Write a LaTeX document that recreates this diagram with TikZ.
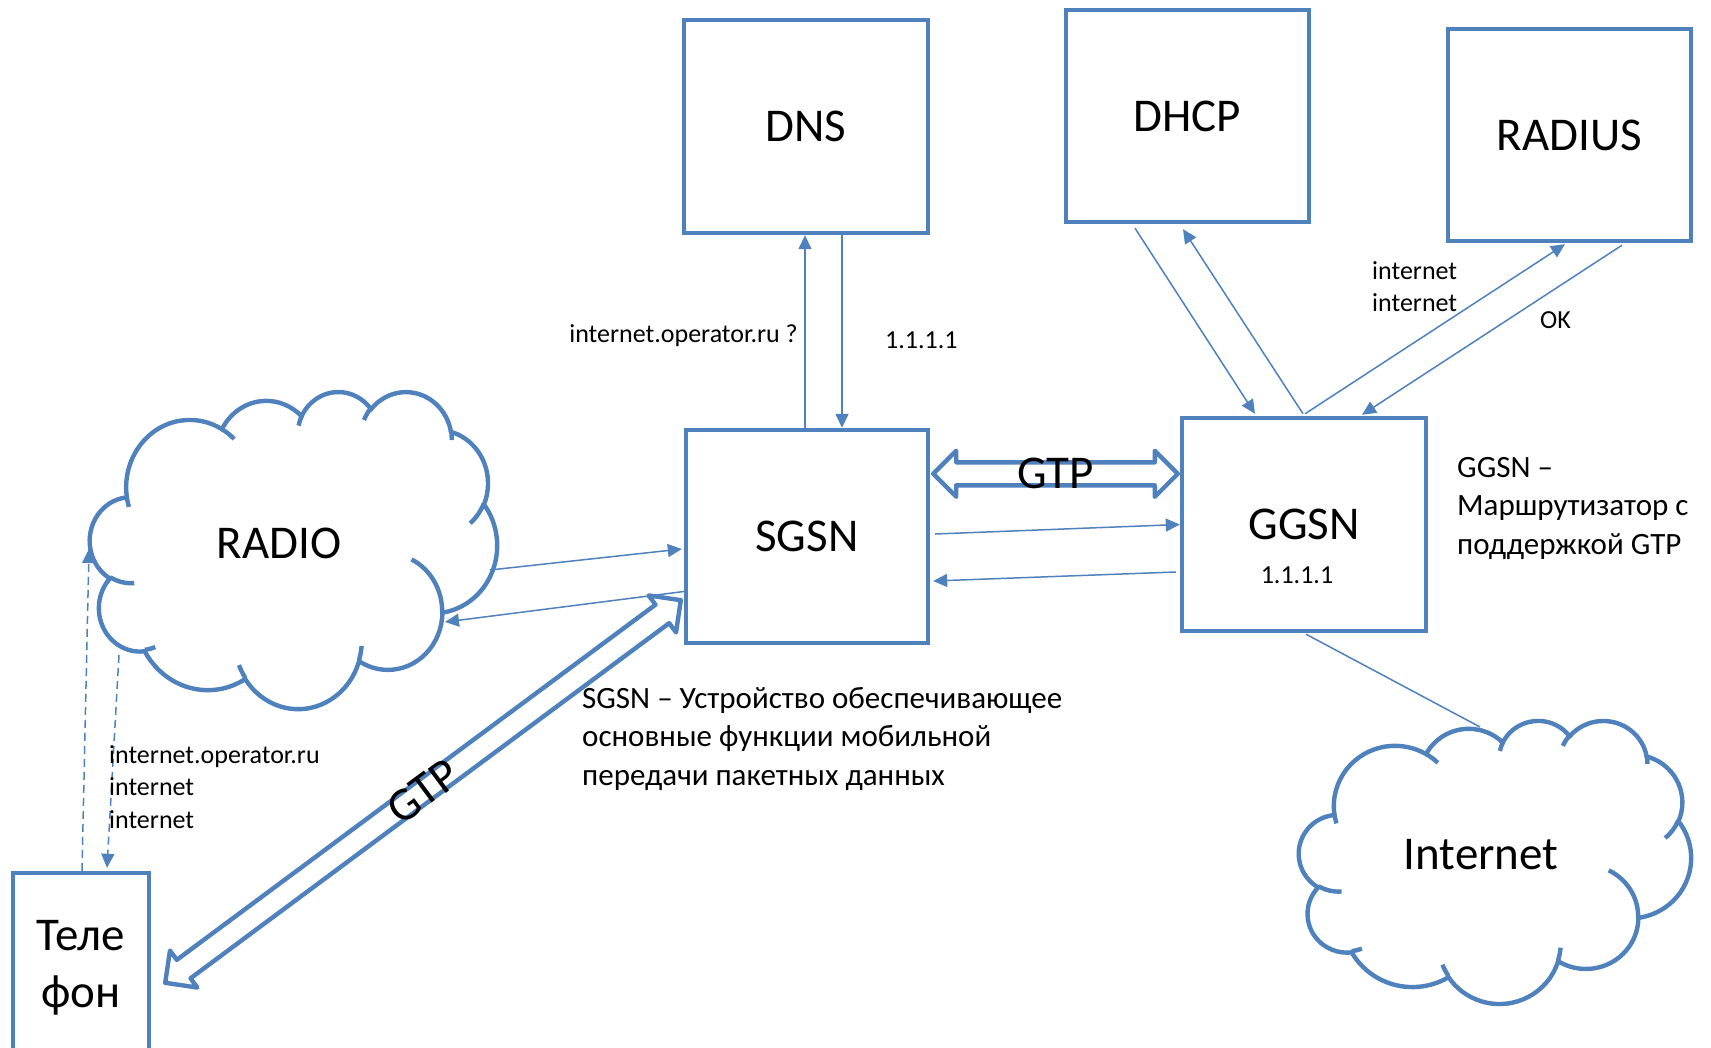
\documentclass[tikz,border=0pt]{standalone}
\usepackage{fontspec}
\setmainfont{Carlito}
\usetikzlibrary{calc,arrows.meta}
\definecolor{ob}{HTML}{4F81BD}
\newcommand\fBig{\fontsize{47}{57}\selectfont}
\newcommand\fDesc{\fontsize{31}{38.3}\selectfont}
\newcommand\fSmall{\fontsize{26}{32.5}\selectfont}
\tikzset{
  declare function={vis(\rw,\rh,\ang)=atan2(\rw*sin(\ang),\rh*cos(\ang));},
  carc/.style n args={4}{insert path={arc[x radius={#1/100},y radius={#2/100},start angle={vis(#1,#2,#3)},delta angle={mod(vis(#1,#2,(#3)+(#4))-vis(#1,#2,#3)+720,360)}]}},
  box/.style={draw=ob,line width=4.4pt,rectangle,inner sep=0pt,font=\fBig},
  big/.style={inner sep=0pt,font=\fBig},
  lbl/.style={inner sep=0pt,font=\fSmall,align=left},
  desc/.style={inner sep=0pt,font=\fDesc,align=left},
  arr/.style={draw=ob,line width=1.5pt,-{Triangle[length=14pt,width=13pt]}},
  dasharr/.style={arr,dash pattern=on 8pt off 5pt},
  thinline/.style={draw=ob,line width=1.5pt},
  cloudline/.style={draw=ob,line width=4.4pt},
  hollow/.style={draw=ob,line width=4.4pt,line join=round,fill=white}
}
\newcommand\hollowarrow[2]{%
  \draw[hollow] (#1)
   -- ($(#1)!23pt!(#2)!23pt!90:(#2)$)
   -- ($(#1)!23pt!(#2)!11.5pt!90:(#2)$)
   -- ($(#2)!23pt!(#1)!11.5pt!-90:(#1)$)
   -- ($(#2)!23pt!(#1)!23pt!-90:(#1)$)
   -- (#2)
   -- ($(#2)!23pt!(#1)!23pt!90:(#1)$)
   -- ($(#2)!23pt!(#1)!11.5pt!90:(#1)$)
   -- ($(#1)!23pt!(#2)!11.5pt!-90:(#2)$)
   -- ($(#1)!23pt!(#2)!23pt!-90:(#2)$)
   -- cycle;}
\newcommand\officecloud[4]{%
  \begin{scope}[shift={(#1,#2)},xscale={#3/432},yscale={#4/432}]
    \draw[cloudline,fill=white] (39.00,143.70)
      [carc={6753}{9190}{-190.487}{123.781}]
      [carc={5333}{7267}{-144.102}{89.945}]
      [carc={4365}{5945}{-145.808}{99.723}]
      [carc={4857}{6595}{-130.986}{117.242}]
      [carc={5333}{7273}{-78.709}{109.027}]
      [carc={6775}{9220}{-46.267}{130.269}]
      [carc={5785}{7867}{0.625}{114.033}]
      [carc={6752}{9215}{22.452}{115.173}]
      [carc={7720}{10543}{66.243}{75.711}]
      [carc={4360}{5918}{-274.942}{146.736}]
      [carc={4345}{5945}{-246.829}{152.519}] -- cycle;
    \draw[cloudline]
      (46.93,261.77) [carc={4345}{5945}{86.742}{26.430}]
      (69.28,348.99) [carc={4360}{5918}{73.610}{11.447}]
      (164.78,390.90) [carc={6752}{9215}{137.624}{14.081}]
      (288.27,347.51) [carc={6752}{9215}{6.453}{15.998}]
      (341.29,229.54) [carc={5785}{7867}{-70.292}{70.917}]
      (417.98,153.54) [carc={5333}{7273}{30.318}{27.752}]
      (383.24,54.26) [carc={4857}{6595}{-13.744}{14.859}]
      (290.78,39.52) [carc={4857}{6595}{-149.181}{18.195}]
      (221.41,47.20) [carc={4365}{5945}{-163.494}{17.686}]
      (140.00,51.92) [carc={6753}{9190}{-66.707}{12.319}]
      (41.27,157.89) [carc={6753}{9190}{157.654}{11.858}];
  \end{scope}}
\begin{document}
\begin{tikzpicture}[x=1pt,y=-1pt]
\clip (0,0) rectangle (1711,1048);
\fill[white] (0,0) rectangle (1711,1048);

% clouds
\officecloud{90}{391}{407}{317}
\officecloud{1299}{720}{392}{283}
\node[big] (radio) at (279,543) {RADIO};
\node[big] (inet) at (1481,855) {Internet};
\coordinate (radioE) at (490,570);
\coordinate (radioE2) at (445,622);
\coordinate (radioW) at (89,549);
\coordinate (radioSW) at (119,655);
\coordinate (inetN) at (1480,727);

% boxes
\node[box,minimum width=244pt,minimum height=213pt] (dns) at (806,126.5) {DNS};
\node[box,minimum width=243pt,minimum height=212pt] (dhcp) at (1187.5,116) {DHCP};
\node[box,minimum width=243pt,minimum height=212pt] (radius) at (1569.5,135) {RADIUS};
\node[box,minimum width=242pt,minimum height=213pt] (sgsn) at (807,536.5) {SGSN};
\node[box,minimum width=244pt,minimum height=213pt] (ggsn) at (1304,524.5) {GGSN};
\node[lbl] (ggsnip) at (1297,575.5) {1.1.1.1};
\node[box,minimum width=136pt,minimum height=190pt,align=center] (phone) at (81,968) {Теле\\фон};

% hollow GTP arrows
\coordinate (gA) at ($(sgsn.north east)+(3,46)$);
\coordinate (gB) at ($(ggsn.north west)+(-2,58)$);
\hollowarrow{gA}{gB}
\node[big] (gtp1) at ($(gA)!0.5!(gB)$) {GTP};
\coordinate (dA) at ($(sgsn.south west)+(-3,-45)$);
\coordinate (dB) at ($(phone.north east)+(14,112)$);
\hollowarrow{dA}{dB}
\node[big,rotate=36.66] (gtp2) at ($(dA)!0.5!(dB)$) {GTP};

% thin connectors
\draw[arr] ([shift={(-2,0)}]sgsn.north) -- ([shift={(-1,0)}]dns.south);
\draw[arr] ([shift={(36,0)}]dns.south) -- ([shift={(35,0)}]sgsn.north);
\draw[arr] ([shift={(5,-2.5)}]sgsn.east) -- (ggsn.west);
\draw[arr] ([shift={(-4,47.5)}]ggsn.west) -- ([shift={(3,44.5)}]sgsn.east);
\draw[arr] (radioE) -- ([shift={(-2,12.5)}]sgsn.west);
\draw[arr] ([shift={(4,54.5)}]sgsn.west) -- (radioE2);
\draw[dasharr] ([shift={(1,0)}]phone.north) -- (radioW);
\draw[dasharr] (radioSW) -- ([shift={(26,-3)}]phone.north);
\draw[arr] ([shift={(-52.5,4)}]dhcp.south) -- ([shift={(-49,-2)}]ggsn.north);
\draw[arr] ([shift={(-1,-2)}]ggsn.north) -- ([shift={(-4.5,5)}]dhcp.south);
\draw[arr] ([shift={(1,-2)}]ggsn.north) -- ([shift={(-4.5,1)}]radius.south);
\draw[arr] ([shift={(52.5,2)}]radius.south) -- ([shift={(58,-1)}]ggsn.north);
\draw[thinline] ([shift={(2,1)}]ggsn.south) -- (inetN);

% labels (multi-line nodes: base = last line's baseline)
\node[lbl,anchor=base east] (qdns) at (798,343) {internet.operator.ru ?};
\node[lbl,anchor=base west] (adns) at (885,349) {1.1.1.1};
\node[lbl,anchor=base west] (qrad) at (1372,312) {internet\\internet};
\node[lbl,anchor=base west] (arad) at (1540,329) {OK};
\node[lbl,anchor=base west] (qphone) at (109,828) {internet.operator.ru\\internet\\internet};
\node[desc,anchor=base west] (sgsndesc) at (582,785) {SGSN – Устройство обеспечивающее\\основные функции мобильной\\передачи пакетных данных};
\node[desc,anchor=base west] (ggsndesc) at (1457,554) {GGSN –\\Маршрутизатор с\\поддержкой GTP};
\end{tikzpicture}
\end{document}
